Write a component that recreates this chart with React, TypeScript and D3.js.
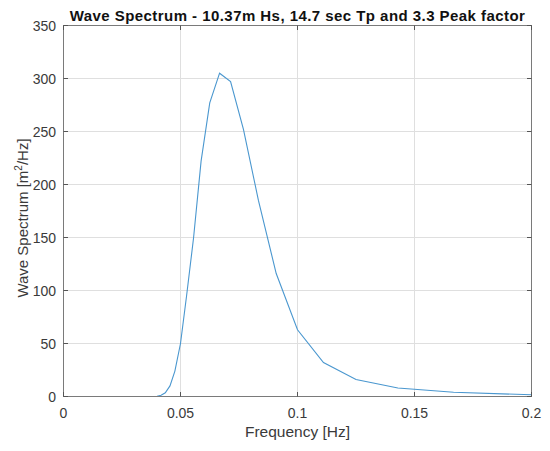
import React from 'react';
import * as d3 from 'd3';

// Spectrum samples (frequency in Hz, spectral density in m^2/Hz)
const frequencies = [0, 0.02, 0.0333, 0.04, 0.0417, 0.0435, 0.0455, 0.0476, 0.05, 0.0526, 0.0556, 0.0588, 0.0625, 0.0667, 0.0714, 0.0769, 0.0833, 0.0909, 0.1, 0.1111, 0.125, 0.1429, 0.1667, 0.2];
const spectrum = [0, 0, 0, 0.3, 1.2, 3.5, 10, 24, 50, 95, 150, 222, 277, 305, 297, 252, 185, 116, 63, 32, 16, 8, 4, 1.6];

const xTicks = [0, 0.05, 0.1, 0.15, 0.2];
const yTicks = [0, 50, 100, 150, 200, 250, 300, 350];

const W = 550;
const H = 451;
const margin = { top: 25.5, right: 18.5, bottom: 54.5, left: 63.5 };
const FONT = '"Liberation Sans", Arial, Helvetica, sans-serif';

const App = () => {
  const x = d3.scaleLinear().domain([0, 0.2]).range([margin.left, W - margin.right]);
  const y = d3.scaleLinear().domain([0, 350]).range([H - margin.bottom, margin.top]);

  const points = frequencies.map((f, i) => [f, spectrum[i]] as [number, number]);
  const line = d3.line<[number, number]>()
    .x(d => x(d[0]))
    .y(d => y(d[1]));

  const x0 = margin.left;
  const x1 = W - margin.right;
  const y0 = H - margin.bottom;
  const y1 = margin.top;
  const tk = 4.5;

  return (
    <div style={{ position: 'fixed', left: 0, top: 0 }}>
      <svg width={W} height={H} style={{ display: 'block', background: '#fff' }}>
        {/* grid */}
        <g stroke="#dfdfdf" strokeWidth={1}>
          {xTicks.map(t => (
            <line key={'gx' + t} x1={x(t)} x2={x(t)} y1={y0} y2={y1} />
          ))}
          {yTicks.map(t => (
            <line key={'gy' + t} x1={x0} x2={x1} y1={y(t)} y2={y(t)} />
          ))}
        </g>

        {/* data */}
        <path d={line(points) || ''} fill="none" stroke="#4a97cf" strokeWidth={1.1} />

        {/* box and ticks */}
        <g strokeWidth={1} fill="none">
          <rect x={x0} y={y1} width={x1 - x0} height={y0 - y1} stroke="#7a7a7a" />
          {xTicks.map(t => (
            <g key={'tx' + t}>
              <line x1={x(t)} x2={x(t)} y1={y0} y2={y0 - tk} stroke="#555" />
              <line x1={x(t)} x2={x(t)} y1={y1} y2={y1 + tk} stroke="#555" />
            </g>
          ))}
          {yTicks.map(t => (
            <g key={'ty' + t}>
              <line x1={x0} x2={x0 + tk} y1={y(t)} y2={y(t)} stroke="#555" />
              <line x1={x1} x2={x1 - tk} y1={y(t)} y2={y(t)} stroke="#555" />
            </g>
          ))}
        </g>

        {/* tick labels */}
        <g fontFamily={FONT} fontSize={14} fill="#3a3a3a">
          {xTicks.map(t => (
            <text key={'lx' + t} x={x(t)} y={y0 + 21} textAnchor="middle">{String(t)}</text>
          ))}
          {yTicks.map(t => (
            <text key={'ly' + t} x={x0 - 7.5} y={y(t) + 5} textAnchor="end">{String(t)}</text>
          ))}
        </g>

        {/* axis labels */}
        <text x={(x0 + x1) / 2} y={y0 + 40.5} textAnchor="middle" fontFamily={FONT} fontSize={15.5} fill="#3a3a3a">
          Frequency [Hz]
        </text>
        <text
          transform={`translate(27.5, ${(y0 + y1) / 2 + 7}) rotate(-90)`}
          textAnchor="middle"
          fontFamily={FONT}
          fontSize={15}
          fill="#3a3a3a"
        >
          Wave Spectrum [m<tspan dy={-6} fontSize={10}>2</tspan><tspan dy={6}>/Hz]</tspan>
        </text>

        {/* title */}
        <text
          x={(x0 + x1) / 2}
          y={21}
          textAnchor="middle"
          fontFamily={FONT}
          fontSize={15}
          fontWeight="bold"
          letterSpacing={0.45}
          fill="#111"
        >
          Wave Spectrum - 10.37m Hs, 14.7 sec Tp and 3.3 Peak factor
        </text>
      </svg>
    </div>
  );
};

export default App;
